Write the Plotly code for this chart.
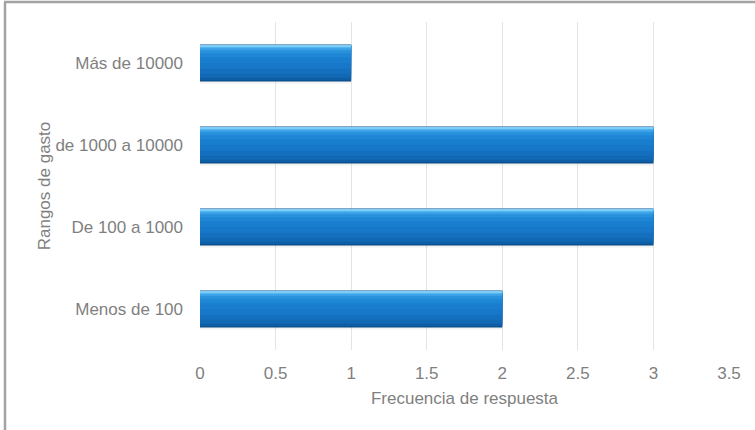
import plotly.graph_objects as go

categories = ["Menos de 100", "De 100 a 1000", "de 1000 a 10000", "Más de 10000"]
values = [2, 3, 3, 1]
x_ticks = [0, 0.5, 1, 1.5, 2, 2.5, 3, 3.5]
x_tick_labels = ["0", "0.5", "1", "1.5", "2", "2.5", "3", "3.5"]

W, H = 755, 430
L, R, T, B = 200, 26, 22, 80
TXT = "#7f7f7f"
FS = 17

fig = go.Figure()
# layered bars to imitate the bevelled 3D look (each layer covers from its
# offset to the top part of the bar, later layers lighter)
layers = [
    # (bottom offset, top offset, color)
    (-0.25, 0.22, "rgba(0,0,0,0.05)"),   # soft shadow
    (-0.225, 0.225, "#0a4e8a"),          # dark base
    (-0.21, 0.215, "#0d5ea4"),
    (-0.18, 0.215, "#1168b3"),
    (-0.13, 0.215, "#1470bf"),
    (-0.07, 0.215, "#1777c8"),
    (0.00, 0.215, "#1a7ecf"),
    (0.07, 0.215, "#1f86d5"),
    (0.12, 0.215, "#2891dc"),
    (0.155, 0.215, "#3aa1e6"),
    (0.18, 0.215, "#55b5ef"),
    (0.198, 0.215, "#7ccdf7"),
]
for lo, hi, col in layers:
    fig.add_trace(go.Bar(
        y=categories, x=values, orientation="h",
        offset=lo, width=hi - lo,
        marker=dict(color=col, line=dict(width=0)),
        hoverinfo="skip", showlegend=False,
    ))

fig.update_layout(
    width=W, height=H,
    margin=dict(l=L, r=R, t=T, b=B),
    paper_bgcolor="white", plot_bgcolor="white",
    barmode="overlay",
    font=dict(family="Liberation Sans, Arial, sans-serif", size=FS, color=TXT),
    xaxis=dict(
        range=[0, 3.5], tickvals=x_ticks, ticktext=x_tick_labels,
        showgrid=True, gridcolor="#e4e4e4", gridwidth=1,
        zeroline=False, showline=False, ticks="",
        ticklabelstandoff=11,
        tickfont=dict(size=FS, color=TXT),
        title=dict(text="Frecuencia de respuesta", font=dict(size=FS, color=TXT), standoff=10),
    ),
    yaxis=dict(
        type="category", categoryorder="array", categoryarray=categories,
        range=[-0.5, 3.5],
        showgrid=False, zeroline=False, showline=False, ticks="",
        ticklabelstandoff=16,
        tickfont=dict(size=FS, color=TXT),
        title=dict(text="Rangos de gasto", font=dict(size=FS, color=TXT), standoff=0),
    ),
)

# outer frame (left and top edges only, as in the picture)
pw = W - L - R
ph = H - T - B
def px(xp):
    return (xp - L) / pw
def py(yp):
    return 1 - (yp - T) / ph
fig.add_shape(type="line", xref="paper", yref="paper",
              x0=px(5), x1=px(5), y0=py(2), y1=py(H + 5),
              line=dict(color="#a3a3a3", width=2.5))
fig.add_shape(type="line", xref="paper", yref="paper",
              x0=px(4), x1=px(W + 5), y0=py(2), y1=py(2),
              line=dict(color="#a3a3a3", width=2.5))

fig.write_html("out.html")
